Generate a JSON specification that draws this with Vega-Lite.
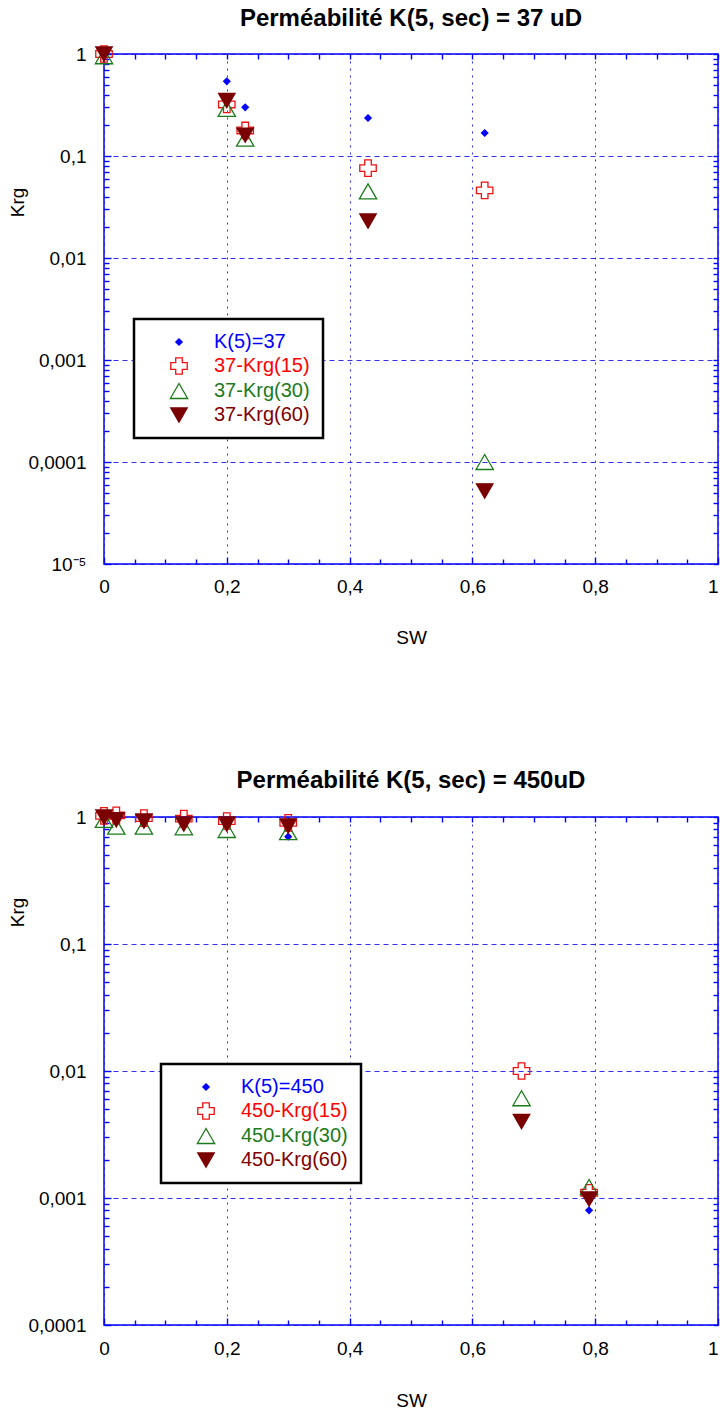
{
  "$schema": "https://vega.github.io/schema/vega-lite/v6.json",
  "padding": {"left": 8, "top": 6, "right": 1, "bottom": 0},
  "background": "white",
  "spacing": 119,
  "config": {
    "font": "Liberation Sans",
    "view": {"stroke": "#0000FF", "strokeWidth": 1.5},
    "axis": {
      "labelFont": "Liberation Sans", "labelFontSize": 19, "labelColor": "black",
      "titleFont": "Liberation Sans", "titleFontSize": 19, "titleFontWeight": "normal", "titleColor": "black",
      "domain": false, "tickColor": "#0000FF", "tickWidth": 1.4,
      "gridColor": "#1a1aee", "gridWidth": 1, "gridOpacity": 0.9
    },
    "legend": {
      "padding": 13, "strokeColor": "black", "strokeWidth": 2.5, "fillColor": "white",
      "rowPadding": 3, "symbolOffset": 22, "labelOffset": 25, "labelFontSize": 20, "labelFont": "Liberation Sans",
      "labelLimit": 300, "symbolStrokeWidth": 1.3,
      "labelColor": {"expr": "indexof(datum.label, 'K(5)') == 0 ? '#0000FF' : indexof(datum.label, '(15)') > 0 ? '#FF0000' : indexof(datum.label, '(30)') > 0 ? '#1B7A1B' : '#800000'"}
    },
    "title": {"font": "Liberation Sans", "fontSize": 24, "fontWeight": "bold", "color": "black", "anchor": "middle", "frame": "group", "offset": 12}
  },
  "resolve": {"scale": {"x": "independent", "y": "independent", "fill": "independent", "stroke": "independent", "shape": "independent", "size": "independent"}, "legend": {"fill": "independent", "stroke": "independent", "shape": "independent", "size": "independent"}},
  "vconcat": [
    {
      "width": 614, "height": 510,
      "title": {"text": "Perméabilité K(5, sec) = 37 uD"},
      "data": {"values": [
        {"serie": "K(5)=37", "SW": 0, "Krg": 1.0},
        {"serie": "K(5)=37", "SW": 0.2, "Krg": 0.54},
        {"serie": "K(5)=37", "SW": 0.23, "Krg": 0.30},
        {"serie": "K(5)=37", "SW": 0.43, "Krg": 0.236},
        {"serie": "K(5)=37", "SW": 0.62, "Krg": 0.168},
        {"serie": "37-Krg(15)", "SW": 0, "Krg": 1.0},
        {"serie": "37-Krg(15)", "SW": 0.2, "Krg": 0.32},
        {"serie": "37-Krg(15)", "SW": 0.23, "Krg": 0.178},
        {"serie": "37-Krg(15)", "SW": 0.43, "Krg": 0.076},
        {"serie": "37-Krg(15)", "SW": 0.62, "Krg": 0.046},
        {"serie": "37-Krg(30)", "SW": 0, "Krg": 0.95},
        {"serie": "37-Krg(30)", "SW": 0.2, "Krg": 0.29},
        {"serie": "37-Krg(30)", "SW": 0.23, "Krg": 0.148},
        {"serie": "37-Krg(30)", "SW": 0.43, "Krg": 0.045},
        {"serie": "37-Krg(30)", "SW": 0.62, "Krg": 0.0001},
        {"serie": "37-Krg(60)", "SW": 0, "Krg": 1.0},
        {"serie": "37-Krg(60)", "SW": 0.2, "Krg": 0.35},
        {"serie": "37-Krg(60)", "SW": 0.23, "Krg": 0.16},
        {"serie": "37-Krg(60)", "SW": 0.43, "Krg": 0.023},
        {"serie": "37-Krg(60)", "SW": 0.62, "Krg": 0.000052}
      ]},
      "layer": [
        {
          "mark": {"type": "point", "opacity": 1, "strokeWidth": 1.3},
          "encoding": {
            "x": {"field": "SW", "type": "quantitative", "scale": {"domain": [0, 1], "nice": false, "zero": false},
              "axis": {"orient": "bottom", "values": [0, 0.2, 0.4, 0.6, 0.8, 1], "labelExpr": "replace(format(datum.value, '~r'), '.', ',')", "labelAlign": {"condition": {"test": "datum.value == 1", "value": "right"}, "value": "center"}, "grid": true, "gridDash": [2, 5], "tickSize": -7, "labelPadding": 20, "title": "SW", "titlePadding": 32, "labelFlush": false}},
            "y": {"field": "Krg", "type": "quantitative", "scale": {"type": "log", "domain": [0.00001, 1], "nice": false},
              "axis": {"orient": "left", "values": [0.00001, 0.0001, 0.001, 0.01, 0.1, 1], "labelExpr": "datum.value < 0.00002 ? '10⁻⁵' : replace(format(datum.value, '~r'), '.', ',')", "grid": true, "gridDash": [5, 4], "tickSize": -7, "labelPadding": 25, "title": "Krg", "titleY": 148, "titlePadding": 0, "labelFlush": false}},
            "shape": {"field": "serie", "type": "nominal", "scale": {"domain": ["K(5)=37", "37-Krg(15)", "37-Krg(30)", "37-Krg(60)"], "range": ["diamond", "cross", "triangle-up", "triangle-down"]},
              "legend": {"orient": "none", "legendX": 30, "legendY": 265, "title": null}},
            "stroke": {"field": "serie", "type": "nominal", "scale": {"domain": ["K(5)=37", "37-Krg(15)", "37-Krg(30)", "37-Krg(60)"], "range": ["#0000FF", "#EE1111", "#1B7A1B", "#7A0000"]},
              "legend": {"orient": "none", "legendX": 30, "legendY": 265, "title": null}},
            "fill": {"field": "serie", "type": "nominal", "scale": {"domain": ["K(5)=37", "37-Krg(15)", "37-Krg(30)", "37-Krg(60)"], "range": ["#0000FF", "transparent", "transparent", "#7A0000"]},
              "legend": {"orient": "none", "legendX": 30, "legendY": 265, "title": null}},
            "size": {"field": "serie", "type": "nominal", "scale": {"type": "ordinal", "domain": ["K(5)=37", "37-Krg(15)", "37-Krg(30)", "37-Krg(60)"], "range": [40, 270, 300, 270]},
              "legend": {"orient": "none", "legendX": 30, "legendY": 265, "title": null}}
          }
        },
        {
          "mark": {"type": "point", "opacity": 0},
          "encoding": {
            "x": {"field": "SW", "type": "quantitative", "axis": {"orient": "bottom", "values": [0.05, 0.1, 0.15, 0.25, 0.3, 0.35, 0.45, 0.5, 0.55, 0.65, 0.7, 0.75, 0.85, 0.9, 0.95], "labels": false, "grid": false, "tickSize": -5, "title": null}},
            "y": {"field": "Krg", "type": "quantitative", "axis": {"orient": "left", "values": [0.00002, 0.00003, 0.00004, 0.00005, 0.00006, 0.00007, 0.00008, 0.00009, 0.0002, 0.0003, 0.0004, 0.0005, 0.0006, 0.0007, 0.0008, 0.0009, 0.002, 0.003, 0.004, 0.005, 0.006, 0.007, 0.008, 0.009, 0.02, 0.03, 0.04, 0.05, 0.06, 0.07, 0.08, 0.09, 0.2, 0.3, 0.4, 0.5, 0.6, 0.7, 0.8, 0.9], "labels": false, "grid": false, "tickSize": -5, "title": null}}
          }
        },
        {
          "mark": {"type": "point", "opacity": 0},
          "encoding": {
            "x": {"field": "SW", "type": "quantitative", "axis": {"orient": "top", "values": [0, 0.05, 0.1, 0.15, 0.2, 0.25, 0.3, 0.35, 0.4, 0.45, 0.5, 0.55, 0.6, 0.65, 0.7, 0.75, 0.8, 0.85, 0.9, 0.95, 1], "labels": false, "grid": false, "tickSize": -5, "title": null}},
            "y": {"field": "Krg", "type": "quantitative", "axis": {"orient": "right", "values": [0.00001, 0.00002, 0.00003, 0.00004, 0.00005, 0.00006, 0.00007, 0.00008, 0.00009, 0.0001, 0.0002, 0.0003, 0.0004, 0.0005, 0.0006, 0.0007, 0.0008, 0.0009, 0.001, 0.002, 0.003, 0.004, 0.005, 0.006, 0.007, 0.008, 0.009, 0.01, 0.02, 0.03, 0.04, 0.05, 0.06, 0.07, 0.08, 0.09, 0.1, 0.2, 0.3, 0.4, 0.5, 0.6, 0.7, 0.8, 0.9, 1], "labels": false, "grid": false, "tickSize": -5, "title": null}}
          }
        }
      ],
      "resolve": {"axis": {"x": "independent", "y": "independent"}}
    },
    {
      "width": 614, "height": 508,
      "title": {"text": "Perméabilité K(5, sec) = 450uD"},
      "data": {"values": [
        {"serie": "K(5)=450", "SW": 0, "Krg": 1.0},
        {"serie": "K(5)=450", "SW": 0.02, "Krg": 0.97},
        {"serie": "K(5)=450", "SW": 0.065, "Krg": 0.92},
        {"serie": "K(5)=450", "SW": 0.13, "Krg": 0.88},
        {"serie": "K(5)=450", "SW": 0.2, "Krg": 0.86},
        {"serie": "K(5)=450", "SW": 0.3, "Krg": 0.70},
        {"serie": "K(5)=450", "SW": 0.79, "Krg": 0.0008},
        {"serie": "450-Krg(15)", "SW": 0, "Krg": 1.02},
        {"serie": "450-Krg(15)", "SW": 0.02, "Krg": 1.03},
        {"serie": "450-Krg(15)", "SW": 0.065, "Krg": 0.98},
        {"serie": "450-Krg(15)", "SW": 0.13, "Krg": 0.97},
        {"serie": "450-Krg(15)", "SW": 0.2, "Krg": 0.93},
        {"serie": "450-Krg(15)", "SW": 0.3, "Krg": 0.90},
        {"serie": "450-Krg(15)", "SW": 0.68, "Krg": 0.010},
        {"serie": "450-Krg(15)", "SW": 0.79, "Krg": 0.0011},
        {"serie": "450-Krg(30)", "SW": 0, "Krg": 0.95},
        {"serie": "450-Krg(30)", "SW": 0.02, "Krg": 0.84},
        {"serie": "450-Krg(30)", "SW": 0.065, "Krg": 0.84},
        {"serie": "450-Krg(30)", "SW": 0.13, "Krg": 0.83},
        {"serie": "450-Krg(30)", "SW": 0.2, "Krg": 0.79},
        {"serie": "450-Krg(30)", "SW": 0.3, "Krg": 0.76},
        {"serie": "450-Krg(30)", "SW": 0.68, "Krg": 0.0061},
        {"serie": "450-Krg(30)", "SW": 0.79, "Krg": 0.00122},
        {"serie": "450-Krg(60)", "SW": 0, "Krg": 1.0},
        {"serie": "450-Krg(60)", "SW": 0.02, "Krg": 0.95},
        {"serie": "450-Krg(60)", "SW": 0.065, "Krg": 0.93},
        {"serie": "450-Krg(60)", "SW": 0.13, "Krg": 0.88},
        {"serie": "450-Krg(60)", "SW": 0.2, "Krg": 0.88},
        {"serie": "450-Krg(60)", "SW": 0.3, "Krg": 0.85},
        {"serie": "450-Krg(60)", "SW": 0.68, "Krg": 0.0040},
        {"serie": "450-Krg(60)", "SW": 0.79, "Krg": 0.00098}
      ]},
      "layer": [
        {
          "mark": {"type": "point", "opacity": 1, "strokeWidth": 1.3},
          "encoding": {
            "x": {"field": "SW", "type": "quantitative", "scale": {"domain": [0, 1], "nice": false, "zero": false},
              "axis": {"orient": "bottom", "values": [0, 0.2, 0.4, 0.6, 0.8, 1], "labelExpr": "replace(format(datum.value, '~r'), '.', ',')", "labelAlign": {"condition": {"test": "datum.value == 1", "value": "right"}, "value": "center"}, "grid": true, "gridDash": [2, 5], "tickSize": -7, "labelPadding": 21, "title": "SW", "titlePadding": 33, "labelFlush": false}},
            "y": {"field": "Krg", "type": "quantitative", "scale": {"type": "log", "domain": [0.0001, 1], "nice": false},
              "axis": {"orient": "left", "values": [0.0001, 0.001, 0.01, 0.1, 1], "labelExpr": "replace(format(datum.value, '~r'), '.', ',')", "grid": true, "gridDash": [5, 4], "tickSize": -7, "labelPadding": 25, "title": "Krg", "titleY": 95, "titlePadding": 0, "labelFlush": false}},
            "shape": {"field": "serie", "type": "nominal", "scale": {"domain": ["K(5)=450", "450-Krg(15)", "450-Krg(30)", "450-Krg(60)"], "range": ["diamond", "cross", "triangle-up", "triangle-down"]},
              "legend": {"orient": "none", "legendX": 57, "legendY": 247, "title": null}},
            "stroke": {"field": "serie", "type": "nominal", "scale": {"domain": ["K(5)=450", "450-Krg(15)", "450-Krg(30)", "450-Krg(60)"], "range": ["#0000FF", "#EE1111", "#1B7A1B", "#7A0000"]},
              "legend": {"orient": "none", "legendX": 57, "legendY": 247, "title": null}},
            "fill": {"field": "serie", "type": "nominal", "scale": {"domain": ["K(5)=450", "450-Krg(15)", "450-Krg(30)", "450-Krg(60)"], "range": ["#0000FF", "transparent", "transparent", "#7A0000"]},
              "legend": {"orient": "none", "legendX": 57, "legendY": 247, "title": null}},
            "size": {"field": "serie", "type": "nominal", "scale": {"type": "ordinal", "domain": ["K(5)=450", "450-Krg(15)", "450-Krg(30)", "450-Krg(60)"], "range": [40, 270, 300, 270]},
              "legend": {"orient": "none", "legendX": 57, "legendY": 247, "title": null}}
          }
        },
        {
          "mark": {"type": "point", "opacity": 0},
          "encoding": {
            "x": {"field": "SW", "type": "quantitative", "axis": {"orient": "bottom", "values": [0.05, 0.1, 0.15, 0.25, 0.3, 0.35, 0.45, 0.5, 0.55, 0.65, 0.7, 0.75, 0.85, 0.9, 0.95], "labels": false, "grid": false, "tickSize": -5, "title": null}},
            "y": {"field": "Krg", "type": "quantitative", "axis": {"orient": "left", "values": [0.0002, 0.0003, 0.0004, 0.0005, 0.0006, 0.0007, 0.0008, 0.0009, 0.002, 0.003, 0.004, 0.005, 0.006, 0.007, 0.008, 0.009, 0.02, 0.03, 0.04, 0.05, 0.06, 0.07, 0.08, 0.09, 0.2, 0.3, 0.4, 0.5, 0.6, 0.7, 0.8, 0.9], "labels": false, "grid": false, "tickSize": -5, "title": null}}
          }
        },
        {
          "mark": {"type": "point", "opacity": 0},
          "encoding": {
            "x": {"field": "SW", "type": "quantitative", "axis": {"orient": "top", "values": [0, 0.05, 0.1, 0.15, 0.2, 0.25, 0.3, 0.35, 0.4, 0.45, 0.5, 0.55, 0.6, 0.65, 0.7, 0.75, 0.8, 0.85, 0.9, 0.95, 1], "labels": false, "grid": false, "tickSize": -5, "title": null}},
            "y": {"field": "Krg", "type": "quantitative", "axis": {"orient": "right", "values": [0.0001, 0.0002, 0.0003, 0.0004, 0.0005, 0.0006, 0.0007, 0.0008, 0.0009, 0.001, 0.002, 0.003, 0.004, 0.005, 0.006, 0.007, 0.008, 0.009, 0.01, 0.02, 0.03, 0.04, 0.05, 0.06, 0.07, 0.08, 0.09, 0.1, 0.2, 0.3, 0.4, 0.5, 0.6, 0.7, 0.8, 0.9, 1], "labels": false, "grid": false, "tickSize": -5, "title": null}}
          }
        }
      ],
      "resolve": {"axis": {"x": "independent", "y": "independent"}}
    }
  ]
}
